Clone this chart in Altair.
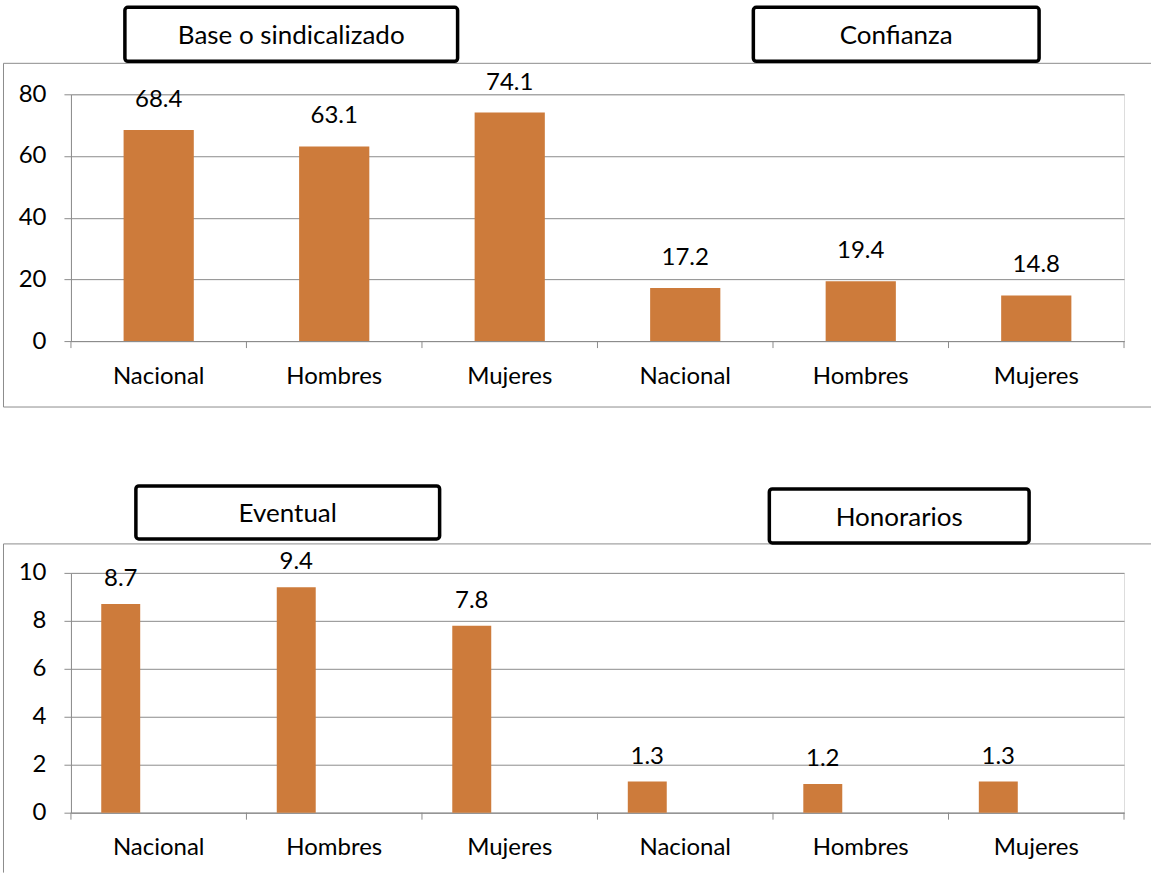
import altair as alt
import pandas as pd

# ---- data ----
sexo = ["Nacional", "Hombres", "Mujeres"]
grupos_sup = ["Base o sindicalizado", "Confianza"]
valores_base = [68.4, 63.1, 74.1]
valores_confianza = [17.2, 19.4, 14.8]
grupos_inf = ["Eventual", "Honorarios"]
valores_eventual = [8.7, 9.4, 7.8]
valores_honorarios = [1.3, 1.2, 1.3]
ticks_sup = [0, 20, 40, 60, 80]
ticks_inf = [0, 2, 4, 6, 8, 10]

ORANGE = "#CD7B3B"
GRAY = "#8C8C8C"
FONT = "Lato"
W = 1054


def make_df(grupos, series):
    rows = []
    for g, vals in zip(grupos, series):
        for s, v in zip(sexo, vals):
            rows.append({"key": f"{g}|{s}", "grupo": g, "sexo": s, "valor": v})
    return pd.DataFrame(rows)


def panel(df, ticks, h, bar_frac, bar_off, label_dy, boxes, frame_bottom, bottom_line):
    order = list(df["key"])

    def xenc(**kw):
        return alt.X(
            "key:N", sort=order,
            scale=alt.Scale(paddingInner=0, paddingOuter=0),
            axis=alt.Axis(title=None, labelExpr="split(datum.value, '|')[1]",
                          ticks=False, tickSize=0, domainColor=GRAY, labelAngle=0,
                          labelPadding=42, labelBaseline="alphabetic",
                          labelFontSize=24, labelFont=FONT, labelColor="black",
                          grid=False),
            **kw)

    yenc = alt.Y(
        "valor:Q",
        scale=alt.Scale(domain=[0, max(ticks)], nice=False),
        axis=alt.Axis(title=None, values=ticks, grid=True, gridColor=GRAY,
                      tickSize=7, tickColor=GRAY, domainColor=GRAY,
                      labelPadding=18, labelFontSize=24, labelFont=FONT,
                      labelColor="black", format="d"))

    base = alt.Chart(df)
    layers = []
    # gray frame
    fr = alt.Chart(pd.DataFrame({"a": [0]}))
    layers.append(fr.mark_rule(color=GRAY, strokeWidth=1).encode(
        x=alt.value(-67.5), x2=alt.value(-67.5), y=alt.value(boxes["frame_top"]), y2=alt.value(frame_bottom)))
    layers.append(fr.mark_rule(color=GRAY, strokeWidth=1).encode(
        x=alt.value(-67.5), x2=alt.value(1081), y=alt.value(boxes["frame_top"]), y2=alt.value(boxes["frame_top"])))
    if bottom_line:
        layers.append(fr.mark_rule(color=GRAY, strokeWidth=1).encode(
            x=alt.value(-67.5), x2=alt.value(1081), y=alt.value(frame_bottom), y2=alt.value(frame_bottom)))

    bars = base.mark_bar(color=ORANGE, width=alt.RelativeBandSize(bar_frac), xOffset=bar_off).encode(
        x=xenc(), y=yenc)
    layers.append(bars)
    labels = base.mark_text(dy=label_dy, dx=bar_off, fontSize=24, font=FONT, color="black",
                            baseline="middle").encode(
        x=xenc(), y=alt.Y("valor:Q"), text=alt.Text("valor:Q", format=".1f"))
    layers.append(labels)
    # category-boundary ticks
    layers.append(base.mark_rule(color=GRAY).encode(
        x=xenc(bandPosition=0), y=alt.value(h), y2=alt.value(h + 7)))
    layers.append(fr.mark_rule(color=GRAY).encode(
        x=alt.value(W), y=alt.value(h), y2=alt.value(h + 7)))
    # title boxes
    for g, (x1, x2, y1, y2) in zip(boxes["names"], boxes["rects"]):
        tb = alt.Chart(pd.DataFrame({"g": [g]}))
        layers.append(tb.mark_rect(fill="white", stroke="black", strokeWidth=3.5, cornerRadius=3).encode(
            x=alt.value(x1), x2=alt.value(x2), y=alt.value(y1), y2=alt.value(y2)))
        layers.append(tb.mark_text(fontSize=26, font=FONT, color="black", baseline="middle").encode(
            x=alt.value((x1 + x2) / 2), y=alt.value((y1 + y2) / 2 + 2), text="g:N"))
    return alt.layer(*layers).properties(width=W, height=h)


df_sup = make_df(grupos_sup, [valores_base, valores_confianza])
df_inf = make_df(grupos_inf, [valores_eventual, valores_honorarios])

top = panel(df_sup, ticks_sup, 247, 0.4, 0, -30,
            {"names": grupos_sup, "frame_top": -31,
             "rects": [(54, 387, -87, -33), (683, 969, -87, -33)]},
            313, True)
bottom = panel(df_inf, ticks_inf, 240, 0.222, -38, -25,
               {"names": grupos_inf, "frame_top": -29,
                "rects": [(65, 369, -87, -34), (699, 959, -84, -30)]},
               300, False)

chart = alt.vconcat(top, bottom, spacing=75).properties(
    padding={"left": 2, "top": 4, "right": 0, "bottom": 0}
).configure_view(stroke=None).configure(background="white")

chart.save("out.html", embed_options={"renderer": "svg", "actions": False})
